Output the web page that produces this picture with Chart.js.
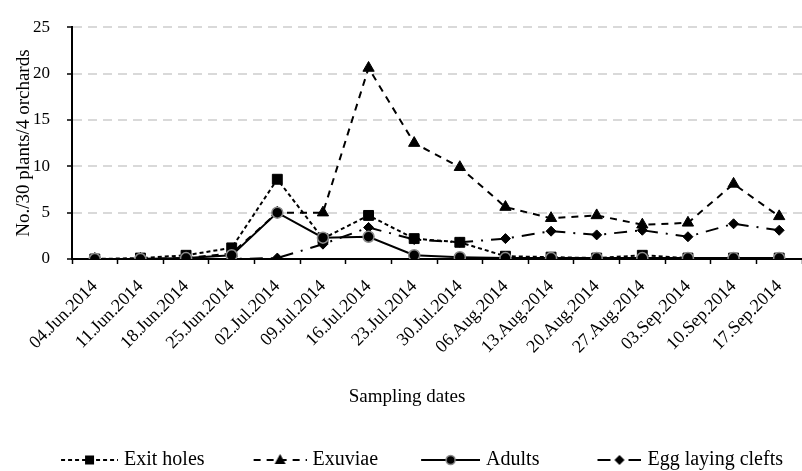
<!DOCTYPE html>
<html>
<head>
<meta charset="utf-8">
<script src="https://cdn.jsdelivr.net/npm/chart.js@4.4.0/dist/chart.umd.min.js"></script>
<style>
  html, body { margin: 0; padding: 0; background: #fff; }
  #wrap { width: 802px; height: 471px; }
</style>
</head>
<body>
<div id="wrap"><canvas id="pestChart" width="802" height="471"></canvas></div>
<script>
const dates = ['04.Jun.2014', '11.Jun.2014', '18.Jun.2014', '25.Jun.2014', '02.Jul.2014', '09.Jul.2014',
  '16.Jul.2014', '23.Jul.2014', '30.Jul.2014', '06.Aug.2014', '13.Aug.2014', '20.Aug.2014',
  '27.Aug.2014', '03.Sep.2014', '10.Sep.2014', '17.Sep.2014'];
const exitHoles = [0, 0.1, 0.4, 1.2, 8.6, 2.2, 4.7, 2.2, 1.8, 0.3, 0.2, 0.1, 0.4, 0.1, 0.1, 0.1];
const exuviae = [0, 0, 0.1, 0.6, 5.0, 5.0, 20.6, 12.5, 9.9, 5.6, 4.4, 4.7, 3.7, 3.9, 8.1, 4.6];
const adults = [0, 0, 0.1, 0.4, 5.0, 2.3, 2.4, 0.4, 0.2, 0.1, 0.1, 0.1, 0.1, 0.1, 0.1, 0.1];
const eggClefts = [0, 0, 0, 0, 0.1, 1.6, 3.4, 2.1, 1.8, 2.2, 3.0, 2.6, 3.1, 2.4, 3.8, 3.1];
const yTicks = [0, 5, 10, 15, 20, 25];

const serif = 'Liberation Serif';

// little pictures for the legend: dashed line with the marker in the middle
function legendIcon(dash, marker, symWidth) {
  const c = document.createElement('canvas');
  c.width = 96;
  c.height = 16;
  const g = c.getContext('2d');
  const x0 = c.width - symWidth, x1 = c.width, y = 8, mx = (x0 + x1) / 2;
  g.strokeStyle = '#000';
  g.lineWidth = 2;
  g.setLineDash(dash);
  g.beginPath();
  g.moveTo(x0, y);
  g.lineTo(x1, y);
  g.stroke();
  g.setLineDash([]);
  g.fillStyle = '#000';
  g.beginPath();
  if (marker === 'rect') {
    g.fillRect(mx - 4.5, y - 4.5, 9, 9);
  } else if (marker === 'triangle') {
    g.moveTo(mx, y - 6);
    g.lineTo(mx + 5.5, y + 4);
    g.lineTo(mx - 5.5, y + 4);
    g.closePath();
    g.fill();
  } else if (marker === 'circle') {
    g.arc(mx, y, 4.5, 0, Math.PI * 2);
    g.fill();
    g.strokeStyle = '#888';
    g.lineWidth = 1.5;
    g.stroke();
  } else {
    g.moveTo(mx, y - 5);
    g.lineTo(mx + 5, y);
    g.lineTo(mx, y + 5);
    g.lineTo(mx - 5, y);
    g.closePath();
    g.fill();
  }
  return c;
}

const icons = [
  legendIcon([4, 3], 'rect', 57),
  legendIcon([7, 6], 'triangle', 53),
  legendIcon([], 'circle', 59),
  legendIcon([13, 8, 2, 8], 'rectRot', 44)
];

// legend a few pixels lower, x title pulled left (it sits left of the axis centre in the original)
const tweaks = {
  id: 'tweaks',
  afterLayout(chart) {
    chart.legend.top += 9;
    chart.legend.bottom += 9;
  },
  beforeDraw(chart) {
    const xs = chart.scales.x;
    if (xs._shifted) return;
    const drawTitle = xs.drawTitle.bind(xs);
    xs.drawTitle = function () {
      xs.ctx.save();
      xs.ctx.translate(-30, 0);
      drawTitle();
      xs.ctx.restore();
    };
    xs._shifted = true;
  }
};

const ctx = document.getElementById('pestChart').getContext('2d');
new Chart(ctx, {
  type: 'line',
  data: {
    labels: dates,
    datasets: [
      {
        label: 'Exit holes',
        data: exitHoles,
        borderColor: '#000',
        borderWidth: 2,
        borderDash: [4, 3],
        pointStyle: 'rect',
        pointRadius: 7,
        pointBackgroundColor: '#000',
        pointBorderColor: '#000',
        pointBorderWidth: 1,
        order: 2
      },
      {
        label: 'Exuviae',
        data: exuviae,
        borderColor: '#000',
        borderWidth: 2,
        borderDash: [7, 6],
        pointStyle: 'triangle',
        pointRadius: 6.5,
        pointBackgroundColor: '#000',
        pointBorderColor: '#000',
        pointBorderWidth: 1,
        order: 3
      },
      {
        label: 'Adults',
        data: adults,
        borderColor: '#000',
        borderWidth: 2,
        pointStyle: 'circle',
        pointRadius: 5.5,
        pointBackgroundColor: '#000',
        pointBorderColor: '#8c8c8c',
        pointBorderWidth: 1.5,
        order: 1
      },
      {
        label: 'Egg laying clefts',
        data: eggClefts,
        borderColor: '#000',
        borderWidth: 2,
        borderDash: [13, 8, 2, 8],
        pointStyle: 'rectRot',
        pointRadius: 5,
        pointBackgroundColor: '#000',
        pointBorderColor: '#000',
        pointBorderWidth: 1,
        order: 4
      }
    ]
  },
  options: {
    responsive: false,
    animation: false,
    // the original plot runs a little past the right edge of the picture
    layout: { autoPadding: false, padding: { top: 20, right: -7, bottom: 0, left: 0 } },
    elements: { line: { tension: 0, fill: false } },
    scales: {
      x: {
        offset: true,
        grid: { display: true, offset: true, color: 'transparent', tickColor: '#000', tickLength: 5, tickWidth: 1.5 },
        border: { color: '#000', width: 2 },
        ticks: {
          color: '#000', font: { family: serif, size: 18 },
          minRotation: 45, maxRotation: 45, autoSkip: false, padding: 12
        },
        title: {
          display: true, text: 'Sampling dates', color: '#000',
          font: { family: serif, size: 19 }, padding: { top: 0, bottom: 23 }
        },
        afterFit: s => {
          s.height = 172;
          s.paddingLeft = 0;
          s.paddingRight = -7;
        }
      },
      y: {
        min: 0,
        max: 25,
        afterBuildTicks: s => { s.ticks = yTicks.map(v => ({ value: v })); },
        grid: {
          color: c => (c.tick && c.tick.value === 0 ? 'transparent' : '#d9d9d9'),
          lineWidth: 2,
          tickColor: '#000',
          tickLength: 5,
          tickWidth: 1.5
        },
        border: { color: '#000', width: 2, dash: [9, 6] },
        ticks: { color: '#000', font: { family: serif, size: 17 }, padding: 17 },
        title: {
          display: true, text: 'No./30 plants/4 orchards', color: '#000',
          font: { family: serif, size: 19 }, padding: { top: 13, bottom: 0 }
        },
        afterFit: s => {
          s.width = 72;
          s.paddingRight = -7;
        }
      }
    },
    plugins: {
      legend: {
        position: 'bottom',
        labels: {
          color: '#000',
          font: { family: serif, size: 20 },
          usePointStyle: true,
          pointStyleWidth: 88,
          padding: 10,
          sort: (a, b) => a.datasetIndex - b.datasetIndex,
          generateLabels: chart => Chart.defaults.plugins.legend.labels.generateLabels(chart)
            .map(item => Object.assign(item, { pointStyle: icons[item.datasetIndex], lineWidth: 0 }))
        }
      },
      tooltip: { enabled: false }
    }
  },
  plugins: [tweaks]
});
</script>
</body>
</html>
